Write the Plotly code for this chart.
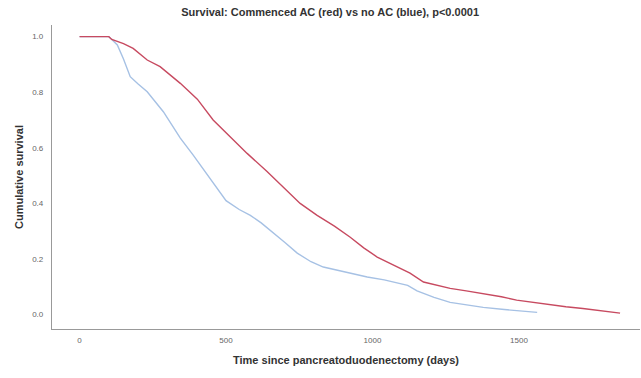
import plotly.graph_objects as go

# Kaplan-Meier style survival curves
ac_days = [0, 100, 110, 125, 150, 183, 231, 275, 344, 402, 456, 514, 572, 640, 700, 753,
           811, 870, 924, 970, 1016, 1071, 1128, 1174, 1221, 1265, 1320, 1378, 1440, 1492,
           1550, 1606, 1660, 1718, 1780, 1845]
ac_surv = [1.0, 1.0, 0.99, 0.985, 0.975, 0.958, 0.916, 0.892, 0.832, 0.775, 0.70, 0.64, 0.58,
           0.515, 0.455, 0.40, 0.357, 0.318, 0.278, 0.24, 0.207, 0.178, 0.149, 0.117, 0.106,
           0.094, 0.085, 0.076, 0.064, 0.052, 0.043, 0.034, 0.028, 0.022, 0.014, 0.005]

noac_days = [0, 100, 112, 129, 150, 173, 200, 231, 286, 344, 388, 429, 470, 500, 545, 583,
             620, 651, 700, 743, 790, 832, 900, 982, 1040, 1095, 1120, 1152, 1210, 1265,
             1320, 1378, 1450, 1520, 1562]
noac_surv = [1.0, 1.0, 0.988, 0.97, 0.92, 0.856, 0.83, 0.802, 0.73, 0.635, 0.574, 0.514,
             0.45, 0.41, 0.378, 0.357, 0.33, 0.304, 0.26, 0.221, 0.19, 0.171, 0.155, 0.135,
             0.125, 0.113, 0.105, 0.085, 0.062, 0.044, 0.035, 0.026, 0.018, 0.012, 0.008]

x_ticks = [0, 500, 1000, 1500]
y_ticks = [0.0, 0.2, 0.4, 0.6, 0.8, 1.0]

title_text = "Survival: Commenced AC (red) vs no AC (blue), p<0.0001"
x_title = "Time since pancreatoduodenectomy (days)"
y_title = "Cumulative survival"

FONT = "Liberation Sans, Arial, sans-serif"

fig = go.Figure()
fig.add_trace(go.Scatter(x=noac_days, y=noac_surv, mode="lines",
                         line=dict(color="#a6c1e4", width=1.4), name="no AC"))
fig.add_trace(go.Scatter(x=ac_days, y=ac_surv, mode="lines",
                         line=dict(color="#c74a60", width=1.4), name="Commenced AC"))

fig.update_layout(
    width=641, height=378,
    margin=dict(l=52, r=1, t=25, b=49),
    paper_bgcolor="white", plot_bgcolor="white",
    showlegend=False,
    font=dict(family=FONT, color="#555"),
    title=dict(text="<b>" + title_text + "</b>", x=0.515, xanchor="center",
               y=1 - 12 / 378, yanchor="middle",
               font=dict(size=11, color="#333", family=FONT)),
)
fig.update_xaxes(
    range=[-94, 1913], tickvals=x_ticks, ticks="", showgrid=False, zeroline=False,
    showline=True, linecolor="#999", linewidth=1.2,
    tickfont=dict(size=8, color="#666"), ticklabelstandoff=3,
    title=dict(text="<b>" + x_title + "</b>", font=dict(size=11, color="#333"), standoff=12),
)
fig.update_yaxes(
    range=[-0.052, 1.042], tickvals=y_ticks, tickformat=".1f", ticks="", showgrid=False,
    zeroline=False, showline=True, linecolor="#999", linewidth=1.2,
    tickfont=dict(size=8, color="#666"), ticklabelstandoff=6,
    title=dict(text="<b>" + y_title + "</b>", font=dict(size=11, color="#333"), standoff=6),
)

fig.write_html("out.html")
